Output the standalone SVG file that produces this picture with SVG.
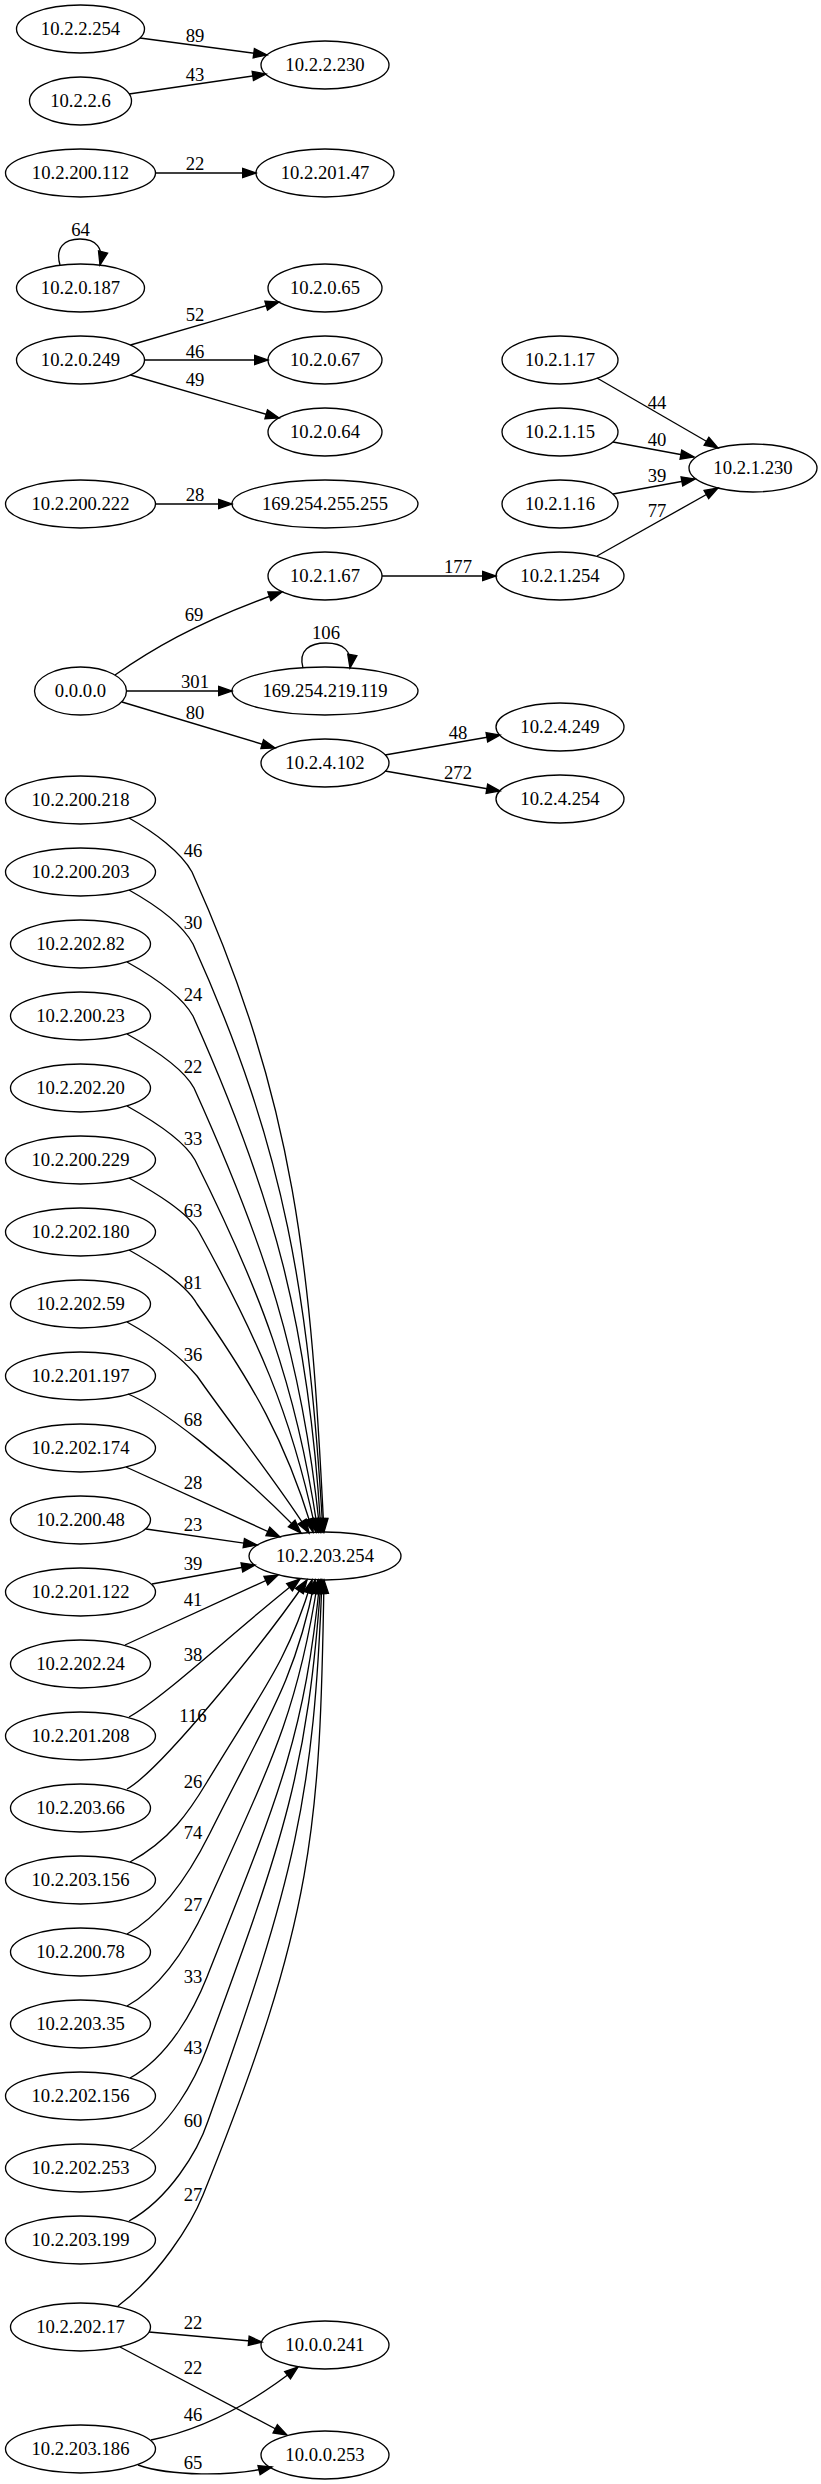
<svg xmlns="http://www.w3.org/2000/svg" width="821" height="2484" viewBox="0 0 821 2484">
<style>
text{font-family:"Liberation Serif","Times New Roman",serif;font-size:18.67px;text-anchor:middle;fill:#000}
.n ellipse{fill:none;stroke:#000;stroke-width:1.33}
#edges path{fill:none;stroke:#000;stroke-width:1.33;marker-end:url(#ah)}
</style>
<defs>
<marker id="ah" markerUnits="userSpaceOnUse" markerWidth="14" markerHeight="10" viewBox="0 -5 14 10" refX="13.33" refY="0" orient="auto" overflow="visible">
<path d="M0,-4.67 L13.33,0 L0,4.67 Z" fill="#000" stroke="#000" stroke-width="1.33"/>
</marker>
</defs>
<rect width="821" height="2484" fill="#fff"/>
<g id="edges">
<path d="M140,38 L267,55"/>
<path d="M129,94 L266,74"/>
<path d="M155.5,173 L256,173"/>
<path d="M60,265 C55,248 64,239 80,239 C96,239 104,248 100,265"/>
<path d="M130.5,345 L279,302"/>
<path d="M144.5,360 L268,360"/>
<path d="M130.5,375 L279,418"/>
<path d="M597,378 L718,448"/>
<path d="M613,442 L694,457"/>
<path d="M613,494 L695,479"/>
<path d="M597,556 L718,488"/>
<path d="M155.5,504 L232,504"/>
<path d="M382,576 L496,576"/>
<path d="M115,675 C145,654 195,622 282,592"/>
<path d="M303,668 C298,650 310,643 326,643 C343,643 353,651 350,668"/>
<path d="M126.5,691 L232,691"/>
<path d="M122,702 L275,748"/>
<path d="M385,755 L500,735"/>
<path d="M385,771 L500,791"/>
<path d="M129,818 C154,832 181,852 192,872 C296,1103 311,1268 324,1532"/>
<path d="M129,890 C154,904 182,924 193,944 C286,1150 309,1297 323,1532"/>
<path d="M127,962 C152,976 182,996 193,1016 C274,1197 309,1326 321,1532"/>
<path d="M127,1034 C152,1048 183,1068 194,1088 C264,1243 302,1354 320,1532"/>
<path d="M127,1106 C152,1120 184,1140 195,1160 C260,1290 296,1383 318,1532"/>
<path d="M129,1178 C154,1192 188,1212 199,1232 C257,1337 291,1412 316,1532"/>
<path d="M129,1250 C154,1264 186,1284 197,1304 C253,1384 286,1441 313,1532"/>
<path d="M127,1322 C152,1336 180,1356 197,1376 C232,1426 285,1493 309,1533"/>
<path d="M128,1394 C158,1406 230,1460 301,1533"/>
<path d="M126,1467 L280,1537"/>
<path d="M146,1529 L257,1545"/>
<path d="M152,1584 L255,1565"/>
<path d="M125,1645 L278,1575"/>
<path d="M129,1717 C165,1697 235,1630 300,1579"/>
<path d="M127,1789 C160,1771 266,1640 307,1580"/>
<path d="M130,1862 C170,1840 189,1812 207,1782 C262,1691 288,1661 312,1580"/>
<path d="M127,1934 C167,1912 195,1863 210,1833 C267,1719 295,1681 315,1580"/>
<path d="M127,2006 C167,1984 193,1935 207,1905 C273,1759 298,1710 318,1580"/>
<path d="M130,2078 C170,2056 195,2007 207,1977 C278,1798 304,1739 320,1580"/>
<path d="M130,2150 C170,2128 196,2078 207,2048 C285,1837 308,1767 321,1580"/>
<path d="M129,2221 C169,2199 198,2151 208,2121 C295,1878 314,1796 322,1580"/>
<path d="M118,2306 C158,2276 191,2225 203,2195 C315,1918 320,1826 324,1580"/>
<path d="M149,2332 L262,2342"/>
<path d="M120,2347 L287,2435"/>
<path d="M151,2440 C200,2430 250,2405 298,2367"/>
<path d="M138,2465 C170,2476 230,2477 272,2467"/>
</g>
<g id="edge-labels">
<text x="195" y="42">89</text>
<text x="195" y="81">43</text>
<text x="195" y="170">22</text>
<text x="80.5" y="236">64</text>
<text x="195" y="321">52</text>
<text x="195" y="358">46</text>
<text x="195" y="386">49</text>
<text x="657" y="409">44</text>
<text x="657" y="446">40</text>
<text x="657" y="482">39</text>
<text x="657" y="517">77</text>
<text x="195" y="501">28</text>
<text x="458" y="573">177</text>
<text x="194" y="621">69</text>
<text x="326" y="639">106</text>
<text x="195" y="688">301</text>
<text x="195" y="719">80</text>
<text x="458" y="739">48</text>
<text x="458" y="779">272</text>
<text x="193" y="857">46</text>
<text x="193" y="929">30</text>
<text x="193" y="1001">24</text>
<text x="193" y="1073">22</text>
<text x="193" y="1145">33</text>
<text x="193" y="1217">63</text>
<text x="193" y="1289">81</text>
<text x="193" y="1361">36</text>
<text x="193" y="1426">68</text>
<text x="193" y="1489">28</text>
<text x="193" y="1531">23</text>
<text x="193" y="1570">39</text>
<text x="193" y="1606">41</text>
<text x="193" y="1661">38</text>
<text x="193" y="1722">116</text>
<text x="193" y="1788">26</text>
<text x="193" y="1839">74</text>
<text x="193" y="1911">27</text>
<text x="193" y="1983">33</text>
<text x="193" y="2054">43</text>
<text x="193" y="2127">60</text>
<text x="193" y="2201">27</text>
<text x="193" y="2329">22</text>
<text x="193" y="2374">22</text>
<text x="193" y="2421">46</text>
<text x="193" y="2469">65</text>
</g>
<g id="n_10_2_2_254" class="n"><ellipse cx="80.5" cy="29" rx="64" ry="24"/><text x="80.5" y="35">10.2.2.254</text></g>
<g id="n_10_2_2_6" class="n"><ellipse cx="80.5" cy="101" rx="51" ry="24"/><text x="80.5" y="107">10.2.2.6</text></g>
<g id="n_10_2_2_230" class="n"><ellipse cx="325" cy="65" rx="64" ry="24"/><text x="325" y="71">10.2.2.230</text></g>
<g id="n_10_2_200_112" class="n"><ellipse cx="80.5" cy="173" rx="75" ry="24"/><text x="80.5" y="179">10.2.200.112</text></g>
<g id="n_10_2_201_47" class="n"><ellipse cx="325" cy="173" rx="69" ry="24"/><text x="325" y="179">10.2.201.47</text></g>
<g id="n_10_2_0_187" class="n"><ellipse cx="80.5" cy="288" rx="64" ry="24"/><text x="80.5" y="294">10.2.0.187</text></g>
<g id="n_10_2_0_249" class="n"><ellipse cx="80.5" cy="360" rx="64" ry="24"/><text x="80.5" y="366">10.2.0.249</text></g>
<g id="n_10_2_0_65" class="n"><ellipse cx="325" cy="288" rx="57" ry="24"/><text x="325" y="294">10.2.0.65</text></g>
<g id="n_10_2_0_67" class="n"><ellipse cx="325" cy="360" rx="57" ry="24"/><text x="325" y="366">10.2.0.67</text></g>
<g id="n_10_2_0_64" class="n"><ellipse cx="325" cy="432" rx="57" ry="24"/><text x="325" y="438">10.2.0.64</text></g>
<g id="n_10_2_1_17" class="n"><ellipse cx="560" cy="360" rx="58" ry="24"/><text x="560" y="366">10.2.1.17</text></g>
<g id="n_10_2_1_15" class="n"><ellipse cx="560" cy="432" rx="58" ry="24"/><text x="560" y="438">10.2.1.15</text></g>
<g id="n_10_2_1_16" class="n"><ellipse cx="560" cy="504" rx="58" ry="24"/><text x="560" y="510">10.2.1.16</text></g>
<g id="n_10_2_1_230" class="n"><ellipse cx="753" cy="468" rx="64" ry="24"/><text x="753" y="474">10.2.1.230</text></g>
<g id="n_10_2_200_222" class="n"><ellipse cx="80.5" cy="504" rx="75" ry="24"/><text x="80.5" y="510">10.2.200.222</text></g>
<g id="n_169_254_255_255" class="n"><ellipse cx="325" cy="504" rx="93" ry="24"/><text x="325" y="510">169.254.255.255</text></g>
<g id="n_10_2_1_67" class="n"><ellipse cx="325" cy="576" rx="57" ry="24"/><text x="325" y="582">10.2.1.67</text></g>
<g id="n_10_2_1_254" class="n"><ellipse cx="560" cy="576" rx="64" ry="24"/><text x="560" y="582">10.2.1.254</text></g>
<g id="n_0_0_0_0" class="n"><ellipse cx="80.5" cy="691" rx="46" ry="24"/><text x="80.5" y="697">0.0.0.0</text></g>
<g id="n_169_254_219_119" class="n"><ellipse cx="325" cy="691" rx="93" ry="24"/><text x="325" y="697">169.254.219.119</text></g>
<g id="n_10_2_4_102" class="n"><ellipse cx="325" cy="763" rx="64" ry="24"/><text x="325" y="769">10.2.4.102</text></g>
<g id="n_10_2_4_249" class="n"><ellipse cx="560" cy="727" rx="64" ry="24"/><text x="560" y="733">10.2.4.249</text></g>
<g id="n_10_2_4_254" class="n"><ellipse cx="560" cy="799" rx="64" ry="24"/><text x="560" y="805">10.2.4.254</text></g>
<g id="n_10_2_200_218" class="n"><ellipse cx="80.5" cy="800" rx="75" ry="24"/><text x="80.5" y="806">10.2.200.218</text></g>
<g id="n_10_2_200_203" class="n"><ellipse cx="80.5" cy="872" rx="75" ry="24"/><text x="80.5" y="878">10.2.200.203</text></g>
<g id="n_10_2_202_82" class="n"><ellipse cx="80.5" cy="944" rx="70" ry="24"/><text x="80.5" y="950">10.2.202.82</text></g>
<g id="n_10_2_200_23" class="n"><ellipse cx="80.5" cy="1016" rx="70" ry="24"/><text x="80.5" y="1022">10.2.200.23</text></g>
<g id="n_10_2_202_20" class="n"><ellipse cx="80.5" cy="1088" rx="70" ry="24"/><text x="80.5" y="1094">10.2.202.20</text></g>
<g id="n_10_2_200_229" class="n"><ellipse cx="80.5" cy="1160" rx="75" ry="24"/><text x="80.5" y="1166">10.2.200.229</text></g>
<g id="n_10_2_202_180" class="n"><ellipse cx="80.5" cy="1232" rx="75" ry="24"/><text x="80.5" y="1238">10.2.202.180</text></g>
<g id="n_10_2_202_59" class="n"><ellipse cx="80.5" cy="1304" rx="70" ry="24"/><text x="80.5" y="1310">10.2.202.59</text></g>
<g id="n_10_2_201_197" class="n"><ellipse cx="80.5" cy="1376" rx="75" ry="24"/><text x="80.5" y="1382">10.2.201.197</text></g>
<g id="n_10_2_202_174" class="n"><ellipse cx="80.5" cy="1448" rx="75" ry="24"/><text x="80.5" y="1454">10.2.202.174</text></g>
<g id="n_10_2_200_48" class="n"><ellipse cx="80.5" cy="1520" rx="70" ry="24"/><text x="80.5" y="1526">10.2.200.48</text></g>
<g id="n_10_2_201_122" class="n"><ellipse cx="80.5" cy="1592" rx="75" ry="24"/><text x="80.5" y="1598">10.2.201.122</text></g>
<g id="n_10_2_202_24" class="n"><ellipse cx="80.5" cy="1664" rx="70" ry="24"/><text x="80.5" y="1670">10.2.202.24</text></g>
<g id="n_10_2_201_208" class="n"><ellipse cx="80.5" cy="1736" rx="75" ry="24"/><text x="80.5" y="1742">10.2.201.208</text></g>
<g id="n_10_2_203_66" class="n"><ellipse cx="80.5" cy="1808" rx="70" ry="24"/><text x="80.5" y="1814">10.2.203.66</text></g>
<g id="n_10_2_203_156" class="n"><ellipse cx="80.5" cy="1880" rx="75" ry="24"/><text x="80.5" y="1886">10.2.203.156</text></g>
<g id="n_10_2_200_78" class="n"><ellipse cx="80.5" cy="1952" rx="70" ry="24"/><text x="80.5" y="1958">10.2.200.78</text></g>
<g id="n_10_2_203_35" class="n"><ellipse cx="80.5" cy="2024" rx="70" ry="24"/><text x="80.5" y="2030">10.2.203.35</text></g>
<g id="n_10_2_202_156" class="n"><ellipse cx="80.5" cy="2096" rx="75" ry="24"/><text x="80.5" y="2102">10.2.202.156</text></g>
<g id="n_10_2_202_253" class="n"><ellipse cx="80.5" cy="2168" rx="75" ry="24"/><text x="80.5" y="2174">10.2.202.253</text></g>
<g id="n_10_2_203_199" class="n"><ellipse cx="80.5" cy="2240" rx="75" ry="24"/><text x="80.5" y="2246">10.2.203.199</text></g>
<g id="n_10_2_202_17" class="n"><ellipse cx="80.5" cy="2327" rx="70" ry="24"/><text x="80.5" y="2333">10.2.202.17</text></g>
<g id="n_10_2_203_186" class="n"><ellipse cx="80.5" cy="2449" rx="75" ry="24"/><text x="80.5" y="2455">10.2.203.186</text></g>
<g id="n_10_2_203_254" class="n"><ellipse cx="325" cy="1556" rx="76" ry="24"/><text x="325" y="1562">10.2.203.254</text></g>
<g id="n_10_0_0_241" class="n"><ellipse cx="325" cy="2345" rx="64" ry="24"/><text x="325" y="2351">10.0.0.241</text></g>
<g id="n_10_0_0_253" class="n"><ellipse cx="325" cy="2455" rx="64" ry="24"/><text x="325" y="2461">10.0.0.253</text></g>
</svg>
